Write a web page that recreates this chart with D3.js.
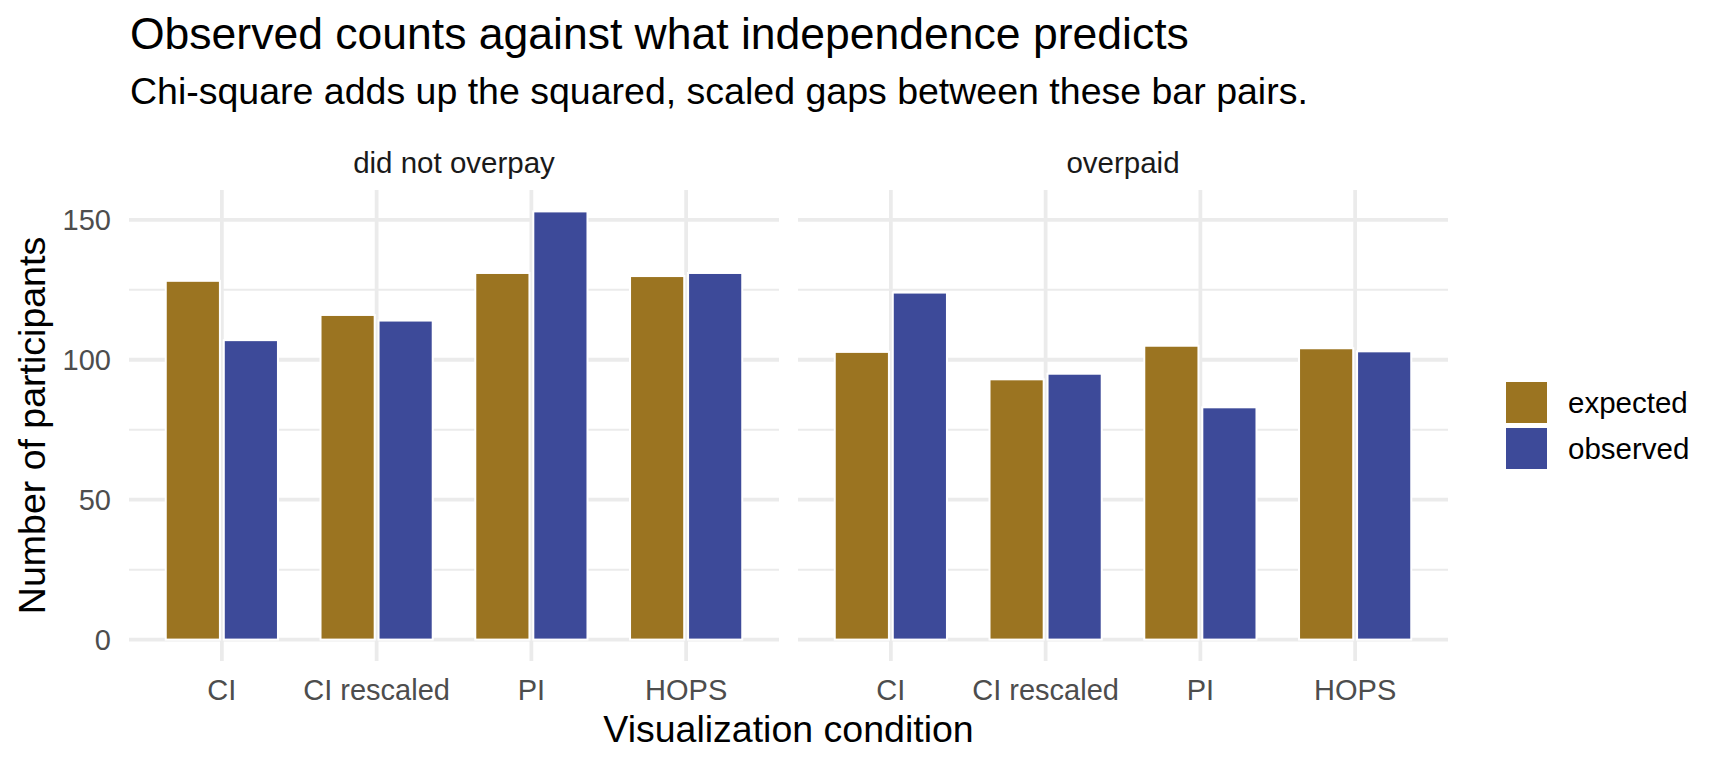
<!DOCTYPE html>
<html>
<head>
<meta charset="utf-8">
<script src="https://cdn.jsdelivr.net/npm/d3@7"></script>
<style>
  body { margin: 0; background: #fff; }
  text { font-family: "Liberation Sans", Arial, Helvetica, sans-serif; }
</style>
</head>
<body>
<div id="chart"></div>
<script>
// Data
var conditions = ["CI", "CI rescaled", "PI", "HOPS"];
var facets = ["did not overpay", "overpaid"];
var seriesNames = ["expected", "observed"];
var expectedNotOverpaid = [128.2, 116.0, 131.0, 129.9];
var observedNotOverpaid = [107, 114, 153, 131];
var expectedOverpaid = [102.8, 93.0, 105.0, 104.1];
var observedOverpaid = [124, 95, 83, 103];
var yTicks = [0, 50, 100, 150];
var yMinorTicks = [25, 75, 125];

var colors = { expected: "#9B7421", observed: "#3D4A99" };

var svgWidth = 1728;
var svgHeight = 768;

// panel geometry
var panelTop = 190;
var panelBottom = 661;
var panelW = 650;
var panelLeft = [129, 798];

var svg = d3.select("#chart")
    .append("svg")
    .attr("width", svgWidth)
    .attr("height", svgHeight);

// build rows per facet
var facetData = [
    { name: facets[0], expected: expectedNotOverpaid, observed: observedNotOverpaid },
    { name: facets[1], expected: expectedOverpaid, observed: observedOverpaid }
];

var allValues = expectedNotOverpaid.concat(observedNotOverpaid, expectedOverpaid, observedOverpaid);
var yMax = d3.max(allValues);
var yPad = yMax * 0.05;

var y = d3.scaleLinear()
    .domain([-yPad, yMax + yPad])
    .range([panelBottom, panelTop]);

var x = d3.scalePoint()
    .domain(conditions)
    .range([0, panelW])
    .padding(0.6);

var step = x.step();

// dodge: bar centres at +/- 0.1875 step, bars 0.35 step wide
var xSub = d3.scaleBand()
    .domain(seriesNames)
    .range([-0.375 * step, 0.375 * step]);
var barW = 0.35 * step;

facetData.forEach(function(f, i) {
    var g = svg.append("g")
        .attr("transform", `translate(${panelLeft[i]}, 0)`);

    // minor grid
    g.selectAll(".minor")
        .data(yMinorTicks)
        .enter()
        .append("line")
        .attr("x1", 0)
        .attr("x2", panelW)
        .attr("y1", d => y(d))
        .attr("y2", d => y(d))
        .attr("stroke", "#EBEBEB")
        .attr("stroke-width", 2);

    // major grid
    g.selectAll(".major")
        .data(yTicks)
        .enter()
        .append("line")
        .attr("x1", 0)
        .attr("x2", panelW)
        .attr("y1", d => y(d))
        .attr("y2", d => y(d))
        .attr("stroke", "#EBEBEB")
        .attr("stroke-width", 3.8);

    g.selectAll(".vgrid")
        .data(conditions)
        .enter()
        .append("line")
        .attr("x1", d => x(d))
        .attr("x2", d => x(d))
        .attr("y1", panelTop)
        .attr("y2", panelBottom)
        .attr("stroke", "#EBEBEB")
        .attr("stroke-width", 3.8);

    // bars
    var rows = [];
    conditions.forEach(function(c, j) {
        seriesNames.forEach(function(s) {
            rows.push({ cond: c, series: s, value: f[s][j] });
        });
    });

    g.selectAll("rect")
        .data(rows)
        .enter()
        .append("rect")
        .attr("x", d => x(d.cond) + xSub(d.series) + (xSub.bandwidth() - barW) / 2)
        .attr("width", barW)
        .attr("y", d => y(d.value))
        .attr("height", d => y(0) - y(d.value))
        .attr("fill", d => colors[d.series])
        .attr("stroke", "white")
        .attr("stroke-width", 2);

    // strip label
    g.append("text")
        .attr("x", panelW / 2)
        .attr("y", 173)
        .attr("text-anchor", "middle")
        .attr("fill", "#1A1A1A")
        .style("font-size", "29.5px")
        .text(f.name);

    // x tick labels
    g.selectAll(".xtick")
        .data(conditions)
        .enter()
        .append("text")
        .attr("x", d => x(d))
        .attr("y", 700)
        .attr("text-anchor", "middle")
        .attr("fill", "#4D4D4D")
        .style("font-size", "29px")
        .text(d => d);
});

// y tick labels
svg.selectAll(".ytick")
    .data(yTicks)
    .enter()
    .append("text")
    .attr("x", 111)
    .attr("y", d => y(d))
    .attr("dy", "0.35em")
    .attr("text-anchor", "end")
    .attr("fill", "#4D4D4D")
    .style("font-size", "29px")
    .text(d => d);

// axis titles
svg.append("text")
    .attr("x", (panelLeft[0] + panelLeft[1] + panelW) / 2)
    .attr("y", 742)
    .attr("text-anchor", "middle")
    .attr("fill", "#000")
    .style("font-size", "37.5px")
    .text("Visualization condition");

svg.append("text")
    .attr("transform", `translate(45, ${(panelTop + panelBottom) / 2}) rotate(-90)`)
    .attr("text-anchor", "middle")
    .attr("fill", "#000")
    .style("font-size", "37.5px")
    .text("Number of participants");

// title and subtitle
svg.append("text")
    .attr("x", 130)
    .attr("y", 48.5)
    .attr("fill", "#000")
    .style("font-size", "44.5px")
    .text("Observed counts against what independence predicts");

svg.append("text")
    .attr("x", 130)
    .attr("y", 104)
    .attr("fill", "#000")
    .style("font-size", "37.5px")
    .text("Chi-square adds up the squared, scaled gaps between these bar pairs.");

// legend
var legend = svg.append("g")
    .attr("transform", "translate(1506, 382)");

var keys = legend.selectAll("g")
    .data(seriesNames)
    .enter()
    .append("g")
    .attr("transform", (d, i) => `translate(0, ${i * 46})`);

keys.append("rect")
    .attr("width", 41)
    .attr("height", 41)
    .attr("fill", d => colors[d]);

keys.append("text")
    .attr("x", 62)
    .attr("y", 20.5)
    .attr("dy", "0.36em")
    .attr("fill", "#000")
    .style("font-size", "29.5px")
    .text(d => d);
</script>
</body>
</html>
